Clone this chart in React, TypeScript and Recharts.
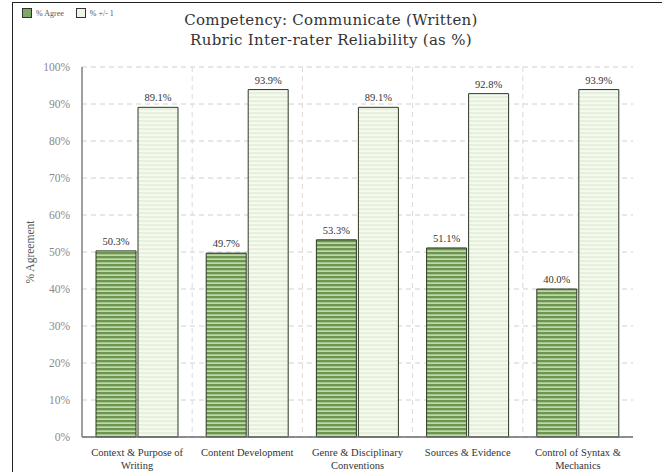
import React from "react";
import { BarChart, Bar, XAxis, YAxis, CartesianGrid, LabelList } from "recharts";

const categories = [
  "Context & Purpose of Writing",
  "Content Development",
  "Genre & Disciplinary Conventions",
  "Sources & Evidence",
  "Control of Syntax & Mechanics",
];
const categoryLines = [
  ["Context & Purpose of", "Writing"],
  ["Content Development"],
  ["Genre & Disciplinary", "Conventions"],
  ["Sources & Evidence"],
  ["Control of Syntax &", "Mechanics"],
];
const agree = [50.3, 49.7, 53.3, 51.1, 40.0];
const withinOne = [89.1, 93.9, 89.1, 92.8, 93.9];
const yTicks = [0, 10, 20, 30, 40, 50, 60, 70, 80, 90, 100];
const seriesNames = ["% Agree", "% +/- 1"];

const data = categories.map((name, i) => ({
  name,
  agree: agree[i],
  withinOne: withinOne[i],
}));

const SERIF = "Liberation Serif";

function CategoryTick(props: any) {
  const { x, y, payload } = props;
  const lines = categoryLines[payload.index] || [payload.value];
  return (
    <text x={x} y={y + 11} textAnchor="middle" fontSize={10.5} fill="#333" fontFamily={SERIF}>
      {lines.map((l: string, i: number) => (
        <tspan key={i} x={x} dy={i === 0 ? 0 : 13}>
          {l}
        </tspan>
      ))}
    </text>
  );
}

function YTick(props: any) {
  const { x, y, payload } = props;
  return (
    <text x={x} y={y + 4} textAnchor="end" fontSize={11.5} fill="#8a8a8a" fontFamily={SERIF}>
      {`${payload.value}%`}
    </text>
  );
}

function ValueLabel(props: any) {
  const { x, y, width, value } = props;
  return (
    <text x={x + width / 2} y={y - 6} textAnchor="middle" fontSize={10.5} fill="#333" fontFamily={SERIF}>
      {`${Number(value).toFixed(1)}%`}
    </text>
  );
}

function LegendBox() {
  const fills = ["#7fa866", "#eef5e6"];
  return (
    <div
      style={{
        position: "absolute",
        left: 22,
        top: 8,
        display: "flex",
        gap: 12,
        fontFamily: SERIF,
        fontSize: 8,
        color: "#555",
      }}
    >
      {seriesNames.map((label, i) => (
        <div key={label} style={{ display: "flex", alignItems: "center", gap: 4 }}>
          <div style={{ width: 8, height: 8, background: fills[i], border: "1px solid #333" }} />
          <span>{label}</span>
        </div>
      ))}
    </div>
  );
}

export default function App() {
  return (
    <div style={{ position: "absolute", left: 0, top: 0, width: 662, height: 472, background: "#fff", overflow: "hidden" }}>
      <div
        style={{
          position: "absolute",
          left: 12,
          top: 2,
          width: 660,
          height: 480,
          border: "1.5px solid #222",
          boxSizing: "border-box",
        }}
      />
      <LegendBox />
      <div
        style={{
          position: "absolute",
          left: 0,
          width: 662,
          top: 10,
          textAlign: "center",
          fontFamily: "DejaVu Serif",
          fontSize: 15,
          lineHeight: "20px",
          color: "#333",
          letterSpacing: 0.3,
        }}
      >
        <div>Competency: Communicate (Written)</div>
        <div>Rubric Inter-rater Reliability (as %)</div>
      </div>
      <div
        style={{
          position: "absolute",
          left: 30,
          top: 252,
          transform: "translate(-50%, -50%) rotate(-90deg)",
          fontFamily: SERIF,
          fontSize: 11.5,
          color: "#555",
          whiteSpace: "nowrap",
        }}
      >
        % Agreement
      </div>
      <BarChart
        width={662}
        height={472}
        data={data}
        margin={{ top: 67, right: 29, left: 0, bottom: 0 }}
        barCategoryGap={14}
        barGap={2}
        style={{ position: "absolute", left: 0, top: 0 }}
      >
        <defs>
          <pattern id="agreeStripes" patternUnits="userSpaceOnUse" width={8} height={4}>
            <rect width={8} height={4} fill="#c0d7ac" />
            <rect width={8} height={2.3} fill="#6b9650" />
          </pattern>
          <pattern id="oneStripes" patternUnits="userSpaceOnUse" width={8} height={4}>
            <rect width={8} height={4} fill="#f6faf1" />
            <rect width={8} height={2.2} fill="#e6f0dc" />
          </pattern>
        </defs>
        <CartesianGrid
          horizontal={true}
          vertical={false}
          stroke="#d0d0d0"
          strokeDasharray="5 4"
        />
        <CartesianGrid
          horizontal={false}
          stroke="#e2d8dc"
          strokeDasharray="5 4"
          verticalCoordinatesGenerator={({ offset }: any) =>
            [1, 2, 3, 4].map((i) => offset.left + (offset.width * i) / categories.length)
          }
        />
        <XAxis
          dataKey="name"
          tick={<CategoryTick />}
          tickLine={false}
          axisLine={{ stroke: "#6b6b6b", strokeWidth: 1.5 }}
          height={35}
          interval={0}
        />
        <XAxis xAxisId="top" orientation="top" dataKey="name" height={0} tick={false} tickLine={false} axisLine={{ stroke: "#7f7f7f", strokeWidth: 1.5 }} />
        <YAxis
          domain={[0, 100]}
          ticks={yTicks}
          tick={<YTick />}
          tickLine={false}
          axisLine={{ stroke: "#7f7f7f", strokeWidth: 1.5 }}
          width={82}
          tickMargin={6}
        />
        <YAxis yAxisId="right" orientation="right" domain={[0, 100]} width={0} tick={false} tickLine={false} axisLine={{ stroke: "#7f7f7f", strokeWidth: 1.5 }} />
        <Bar dataKey="agree" name={seriesNames[0]} fill="url(#agreeStripes)" stroke="#2e3a26" strokeWidth={1} isAnimationActive={false}>
          <LabelList dataKey="agree" content={<ValueLabel />} />
        </Bar>
        <Bar dataKey="withinOne" name={seriesNames[1]} fill="url(#oneStripes)" stroke="#2e3a26" strokeWidth={1} isAnimationActive={false}>
          <LabelList dataKey="withinOne" content={<ValueLabel />} />
        </Bar>
      </BarChart>
    </div>
  );
}
